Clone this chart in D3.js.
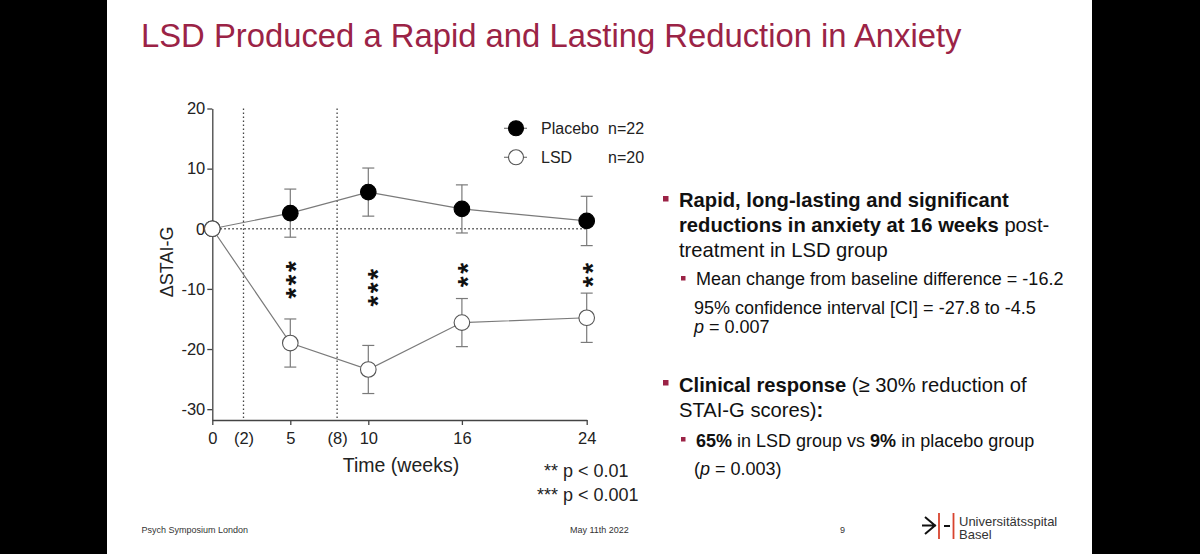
<!DOCTYPE html>
<html>
<head>
<meta charset="utf-8">
<script src="https://cdn.jsdelivr.net/npm/d3@7"></script>
<style>
  html, body { margin: 0; padding: 0; background: #000; }
  svg { display: block; font-family: "Liberation Sans", Arial, sans-serif; }
</style>
</head>
<body>
<div id="chart"></div>
<script>
// data
var weeks = [0, 5, 10, 16, 24];
var placeboMean = [0, 2.6, 6.1, 3.3, 1.3];
var placeboErr = [0, 4.0, 4.0, 4.0, 4.1];
var lsdMean = [0, -19.0, -23.4, -15.6, -14.8];
var lsdErr = [0, 4.0, 4.0, 4.0, 4.1];
var starWeeks = [5, 10, 16, 24];
var starText = ["***", "***", "**", "**"];
var starCenter = [-8.3, -9.6, -7.5, -7.5];
var doseWeeks = [2, 8];
var xTickValues = [0, 2, 5, 8, 10, 16, 24];
var yTickValues = [20, 10, 0, -10, -20, -30];

var svgWidth = 1200;
var svgHeight = 554;
var red = "#9b2346";
var gray = "#7a7a7a";

var svg = d3.select("#chart")
  .append("svg")
  .attr("width", svgWidth)
  .attr("height", svgHeight);

// white slide area between the black side bars
svg.append("rect")
  .attr("x", 107)
  .attr("y", 0)
  .attr("width", 985)
  .attr("height", svgHeight)
  .attr("fill", "#fff");

// title
svg.append("text")
  .attr("x", 141)
  .attr("y", 47)
  .attr("fill", red)
  .style("font-size", "32.8px")
  .text("LSD Produced a Rapid and Lasting Reduction in Anxiety");

// scales
var xScale = d3.scaleLinear().domain([0, 24]).range([212.3, 586.7]);
var yScale = d3.scaleLinear().domain([-31.8, 20]).range([420, 108.5]);

var chartGroup = svg.append("g");

// axes
var leftAxis = d3.axisLeft(yScale)
  .tickValues(yTickValues)
  .tickSize(5)
  .tickSizeOuter(0)
  .tickPadding(2)
  .tickFormat(d => String(d));

var bottomAxis = d3.axisBottom(xScale)
  .tickValues(xTickValues)
  .tickSize(5)
  .tickSizeOuter(0)
  .tickPadding(7)
  .tickFormat(d => doseWeeks.includes(d) ? "(" + d + ")" : String(d));

var yAxis = chartGroup.append("g")
  .attr("transform", `translate(${xScale(0)}, 0)`)
  .call(leftAxis);

var xAxis = chartGroup.append("g")
  .attr("transform", `translate(0, ${yScale.range()[0]})`)
  .call(bottomAxis);

[xAxis, yAxis].forEach(function(ax) {
  ax.select(".domain").attr("stroke", "#444").attr("stroke-width", 1.3);
  ax.selectAll(".tick line").attr("stroke", "#444").attr("stroke-width", 1.3);
  ax.selectAll(".tick text")
    .attr("fill", "#222")
    .style("font-size", "16.5px")
    .style("font-family", "'Liberation Sans', Arial, sans-serif");
});

// no tick marks for the dosing weeks
xAxis.selectAll(".tick")
  .filter(d => doseWeeks.includes(d))
  .select("line")
  .remove();

// axis titles
chartGroup.append("text")
  .attr("transform", `translate(173, ${yScale(-5.5)}) rotate(-90)`)
  .attr("text-anchor", "middle")
  .attr("fill", "#222")
  .style("font-size", "18px")
  .text("ΔSTAI-G");

chartGroup.append("text")
  .attr("x", 401)
  .attr("y", 471.5)
  .attr("text-anchor", "middle")
  .attr("fill", "#222")
  .style("font-size", "19.5px")
  .text("Time (weeks)");

// dotted reference lines
chartGroup.append("line")
  .attr("x1", xScale(0))
  .attr("x2", xScale(24))
  .attr("y1", yScale(0))
  .attr("y2", yScale(0))
  .attr("stroke", "#444")
  .attr("stroke-width", 1.3)
  .attr("stroke-dasharray", "1.5,2.5");

chartGroup.selectAll(".dose-line")
  .data(doseWeeks)
  .enter()
  .append("line")
  .attr("x1", d => xScale(d))
  .attr("x2", d => xScale(d))
  .attr("y1", yScale(20))
  .attr("y2", yScale.range()[0])
  .attr("stroke", "#444")
  .attr("stroke-width", 1.3)
  .attr("stroke-dasharray", "1.5,2.5");

// build the two series
var placeboData = weeks.map((w, i) => ({ week: w, mean: placeboMean[i], err: placeboErr[i] }));
var lsdData = weeks.map((w, i) => ({ week: w, mean: lsdMean[i], err: lsdErr[i] }));

var line = d3.line()
  .x(d => xScale(d.week))
  .y(d => yScale(d.mean));

function drawSeries(data, fill) {
  var g = chartGroup.append("g");

  g.append("path")
    .datum(data)
    .attr("d", line)
    .attr("fill", "none")
    .attr("stroke", gray)
    .attr("stroke-width", 1.2);

  var bars = g.selectAll(".err")
    .data(data.filter(d => d.err > 0))
    .enter()
    .append("g");

  bars.append("line")
    .attr("x1", d => xScale(d.week))
    .attr("x2", d => xScale(d.week))
    .attr("y1", d => yScale(d.mean + d.err))
    .attr("y2", d => yScale(d.mean - d.err))
    .attr("stroke", gray)
    .attr("stroke-width", 1.2);

  [1, -1].forEach(function(sign) {
    bars.append("line")
      .attr("x1", d => xScale(d.week) - 6)
      .attr("x2", d => xScale(d.week) + 6)
      .attr("y1", d => yScale(d.mean + sign * d.err))
      .attr("y2", d => yScale(d.mean + sign * d.err))
      .attr("stroke", gray)
      .attr("stroke-width", 1.2);
  });

  g.selectAll("circle")
    .data(data)
    .enter()
    .append("circle")
    .attr("cx", d => xScale(d.week))
    .attr("cy", d => yScale(d.mean))
    .attr("r", 7.8)
    .attr("fill", fill)
    .attr("stroke", fill === "#fff" ? "#555" : "#000")
    .attr("stroke-width", 1.1);
}

drawSeries(placeboData, "#000");
drawSeries(lsdData, "#fff");

// significance stars, written vertically
chartGroup.selectAll(".stars")
  .data(starWeeks)
  .enter()
  .append("text")
  .attr("transform", (d, i) => `translate(${xScale(d) + (d === 10 ? 3.5 : 0) + 15}, ${yScale(starCenter[i])}) rotate(-90)`)
  .attr("text-anchor", "middle")
  .attr("fill", "#111")
  .style("font-size", "28px")
  .style("font-weight", "bold")
  .style("letter-spacing", "2.5px")
  .text((d, i) => starText[i]);

// legend
var legendRows = [
  { label: "Placebo", n: "n=22", fill: "#000" },
  { label: "LSD", n: "n=20", fill: "#fff" }
];

var legend = chartGroup.selectAll(".legend")
  .data(legendRows)
  .enter()
  .append("g")
  .attr("transform", (d, i) => `translate(516, ${128.3 + i * 29})`);

legend.append("line")
  .attr("x1", -12)
  .attr("x2", 11)
  .attr("stroke", gray)
  .attr("stroke-width", 1.2);

legend.append("circle")
  .attr("r", 7.5)
  .attr("fill", d => d.fill)
  .attr("stroke", d => d.fill === "#fff" ? "#555" : "#000")
  .attr("stroke-width", 1.1);

legend.append("text")
  .attr("x", 25)
  .attr("y", 6)
  .attr("fill", "#222")
  .style("font-size", "16px")
  .text(d => d.label);

legend.append("text")
  .attr("x", 92)
  .attr("y", 6)
  .attr("fill", "#222")
  .style("font-size", "16px")
  .text(d => d.n);

// p-value key
var keyRows = [
  { stars: "**", p: "p < 0.01", y: 477 },
  { stars: "***", p: "p < 0.001", y: 501 }
];

var key = chartGroup.selectAll(".key")
  .data(keyRows)
  .enter()
  .append("g");

key.append("text")
  .attr("x", 558)
  .attr("y", d => d.y)
  .attr("text-anchor", "end")
  .attr("fill", "#222")
  .style("font-size", "18px")
  .text(d => d.stars);

key.append("text")
  .attr("x", 563)
  .attr("y", d => d.y)
  .attr("fill", "#222")
  .style("font-size", "18px")
  .text(d => d.p);

// bullet text on the right
var textGroup = svg.append("g").attr("fill", "#111");

function bulletSquare(x, y, s) {
  textGroup.append("rect")
    .attr("x", x)
    .attr("y", y)
    .attr("width", s)
    .attr("height", s)
    .attr("fill", red);
}

function textLine(x, y, size, parts) {
  var t = textGroup.append("text")
    .attr("x", x)
    .attr("y", y)
    .style("font-size", size + "px");
  parts.forEach(function(p) {
    t.append("tspan")
      .style("font-weight", p.b ? "bold" : "normal")
      .style("font-style", p.i ? "italic" : "normal")
      .text(p.t);
  });
}

bulletSquare(663, 196, 5.5);
textLine(679, 207, 20.2, [{ t: "Rapid, long-lasting and significant", b: true }]);
textLine(679, 232, 20.2, [{ t: "reductions in anxiety at 16 weeks", b: true }, { t: " post-" }]);
textLine(679, 256.5, 20.2, [{ t: "treatment in LSD group" }]);

bulletSquare(681, 276, 4.5);
textLine(696, 285, 18, [{ t: "Mean change from baseline difference = -16.2" }]);
textLine(694, 314, 18, [{ t: "95% confidence interval [CI] = -27.8 to -4.5" }]);
textLine(694, 333, 18, [{ t: "p", i: true }, { t: " = 0.007" }]);

bulletSquare(663, 380, 5.5);
textLine(679, 392, 20.2, [{ t: "Clinical response", b: true }, { t: " (≥ 30% reduction of" }]);
textLine(679, 416.5, 20.2, [{ t: "STAI-G scores)" }, { t: ":", b: true }]);

bulletSquare(681, 437, 4.5);
textLine(696, 446.5, 18, [{ t: "65%", b: true }, { t: " in LSD group vs " }, { t: "9%", b: true }, { t: " in placebo group" }]);
textLine(694, 475, 18, [{ t: "(" }, { t: "p", i: true }, { t: " = 0.003)" }]);

// footer
var footer = svg.append("g")
  .attr("fill", "#333")
  .style("font-size", "9px");

footer.append("text").attr("x", 141.5).attr("y", 533).text("Psych Symposium London");
footer.append("text").attr("x", 570).attr("y", 533).text("May 11th 2022");
footer.append("text").attr("x", 840).attr("y", 533).text("9");

// hospital logo
var logo = svg.append("g");
logo.append("path")
  .attr("d", "M925,517 L935,525.5 L925,534 M922,525.5 L936,525.5")
  .attr("fill", "none")
  .attr("stroke", "#111")
  .attr("stroke-width", 2);
logo.append("line")
  .attr("x1", 939).attr("x2", 939).attr("y1", 513).attr("y2", 539)
  .attr("stroke", "#d8432e").attr("stroke-width", 1.8);
logo.append("line")
  .attr("x1", 944).attr("x2", 950).attr("y1", 526).attr("y2", 526)
  .attr("stroke", "#111").attr("stroke-width", 2);
logo.append("line")
  .attr("x1", 953.5).attr("x2", 953.5).attr("y1", 513).attr("y2", 539)
  .attr("stroke", "#d8432e").attr("stroke-width", 1.8);
logo.append("text")
  .attr("x", 959).attr("y", 526)
  .attr("fill", "#333")
  .style("font-size", "13px")
  .text("Universitätsspital");
logo.append("text")
  .attr("x", 959).attr("y", 539)
  .attr("fill", "#333")
  .style("font-size", "13px")
  .text("Basel");
</script>
</body>
</html>
